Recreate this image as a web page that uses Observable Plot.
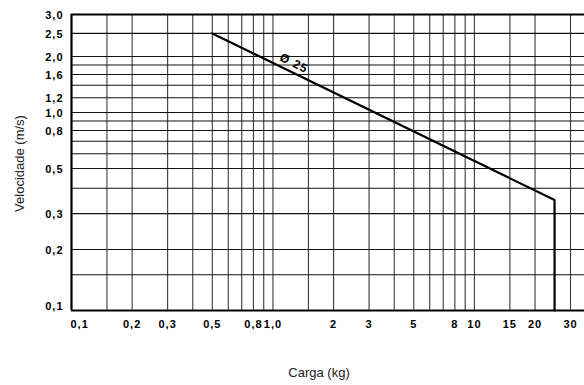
<!DOCTYPE html>
<html>
<head>
<meta charset="utf-8">
<script src="https://cdn.jsdelivr.net/npm/d3@7"></script>
<script src="https://cdn.jsdelivr.net/npm/@observablehq/plot@0.6"></script>
<style>
  html, body { margin: 0; padding: 0; background: #fff; }
  svg { display: block; }
  g[font-weight="bold"] text { letter-spacing: 1px; }
</style>
</head>
<body>
<div id="chart"></div>
<script>
// Curve "Ø 25": load (kg) vs speed (m/s)
const curveLoad = [0.5, 25, 25];
const curveSpeed = [2.5, 0.35, 0.1];
const curveLabel = "Ø 25";

// Tick labels
const xTicks = [0.1, 0.2, 0.3, 0.5, 0.8, 1.0, 2, 3, 5, 8, 10, 15, 20, 30];
const yTicks = [0.1, 0.2, 0.3, 0.5, 0.8, 1.0, 1.2, 1.6, 2.0, 2.5, 3.0];

// Grid lines
const xGrid = [0.15, 0.2, 0.3, 0.4, 0.5, 0.6, 0.7, 0.8, 0.9, 1, 1.5, 2, 3, 4, 5, 6, 7, 8, 9, 10, 15, 20, 30];
const yGrid = [0.15, 0.2, 0.3, 0.4, 0.5, 0.6, 0.7, 0.8, 0.9, 1.0, 1.2, 1.4, 1.6, 1.8, 2.0, 2.5];

const xTitle = "Carga (kg)";
const yTitle = "Velocidade (m/s)";

const fmt = d => (d <= 1 ? d.toFixed(1) : String(d)).replace(".", ",");
const fmtY = d => d.toFixed(1).replace(".", ",");

const curve = curveLoad.map((x, i) => ({x, y: curveSpeed[i]}));

const font = "'Liberation Sans', Arial, Helvetica, sans-serif";
const tickStyle = {fontSize: 11, fontWeight: "bold", fill: "#000", lineAnchor: "middle"};

const chart = Plot.plot({
  width: 584,
  height: 385,
  marginLeft: 71,
  marginRight: 0,
  marginTop: 14,
  marginBottom: 75,
  style: {fontFamily: font, background: "#fff", color: "#000"},
  x: {type: "log", domain: [0.1, 35.2], axis: null},
  y: {type: "log", domain: [0.1, 0.2, 0.5, 1, 2, 3], range: [310, 249, 168, 112, 56, 14], axis: null},
  marks: [
    Plot.ruleX(xGrid, {stroke: "#3a3a3a", strokeWidth: 1.1}),
    Plot.ruleY(yGrid, {stroke: "#111", strokeWidth: 1.1}),
    Plot.ruleX([0.1], {stroke: "#000", strokeWidth: 2.2}),
    Plot.ruleY([0.1], {stroke: "#000", strokeWidth: 2.2}),
    Plot.ruleY([3.0], {stroke: "#000", strokeWidth: 2.2}),
    Plot.line(curve, {x: "x", y: "y", stroke: "#000", strokeWidth: 2.2, strokeLinejoin: "miter"}),
    Plot.text([curveLabel], {x: [1.27], y: [1.84], text: d => d, rotate: 26, fontSize: 12, fill: "#000", fontWeight: "bold"}),
    // x tick labels
    Plot.text(xTicks.filter(d => d === 0.1), {x: d => d, frameAnchor: "bottom", dx: -1, dy: 14, text: fmt, textAnchor: "start", ...tickStyle}),
    Plot.text(xTicks.filter(d => d !== 0.1), {x: d => d, frameAnchor: "bottom", dy: 14, text: fmt, textAnchor: "middle", ...tickStyle}),
    // y tick labels
    Plot.text(yTicks.filter(d => d === 0.1), {y: d => d, frameAnchor: "left", dx: -8, dy: -4.5, text: fmtY, textAnchor: "end", ...tickStyle}),
    Plot.text(yTicks.filter(d => d !== 0.1), {y: d => d, frameAnchor: "left", dx: -8, dy: 1, text: fmtY, textAnchor: "end", ...tickStyle}),
    // titles
    Plot.text([xTitle], {frameAnchor: "bottom", dx: -9, dy: 62, text: d => d, fontSize: 13, fill: "#222", lineAnchor: "middle"}),
    Plot.text([yTitle], {frameAnchor: "left", dx: -52, dy: 1, rotate: -90, text: d => d, fontSize: 13, fill: "#222", lineAnchor: "middle", textAnchor: "middle"})
  ]
});
document.getElementById("chart").appendChild(chart);
</script>
</body>
</html>
